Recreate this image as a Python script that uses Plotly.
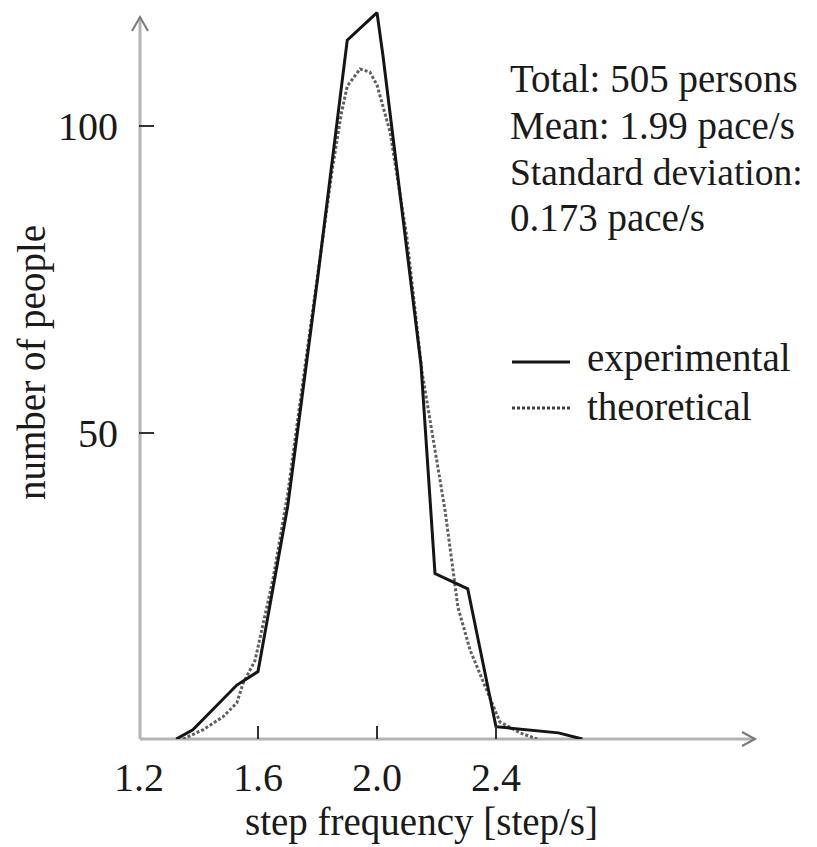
import plotly.graph_objects as go

# ---- data ----
exp_x = [1.325, 1.381, 1.529, 1.600, 1.700, 1.800, 1.900, 2.000, 2.020, 2.148, 2.195, 2.305, 2.400, 2.610, 2.690]
exp_y = [0.0, 1.5, 8.8, 11.0, 38.0, 75.0, 114.0, 118.5, 111.5, 61.0, 27.0, 24.5, 2.0, 1.0, 0.0]

th_x = [1.348, 1.415, 1.482, 1.529, 1.550, 1.590, 1.650, 1.700, 1.750, 1.800, 1.850, 1.880, 1.900,
        1.943, 1.976, 2.000, 2.044, 2.100, 2.151, 2.229, 2.272, 2.313, 2.380, 2.413, 2.481, 2.538]
th_y = [0.0, 1.5, 3.6, 5.9, 9.1, 12.8, 26.0, 40.0, 58.0, 75.5, 93.0, 102.0, 106.5,
        109.3, 108.8, 106.7, 99.0, 82.0, 60.0, 37.2, 21.5, 14.5, 6.8, 2.8, 1.0, 0.0]

x_ticks = [1.2, 1.6, 2.0, 2.4]
x_ticktext = ["1.2", "1.6", "2.0", "2.4"]
y_ticks = [50, 100]
y_ticktext = ["50", "100"]

stats_lines = ["Total: 505 persons", "Mean: 1.99 pace/s", "Standard deviation:", "0.173 pace/s"]
series_names = ["experimental", "theoretical"]
x_title = "step frequency [step/s]"
y_title = "number of people"

# ---- layout geometry (page has an 8px body margin) ----
OFF = 8
W, H = 817 - OFF, 847 - OFF
ML, MR, MT = 139 - OFF, 0, 0
PH = 739 - OFF
MB = H - PH
PW = W - ML - MR
XPX = 297.5           # px per x unit
YPX = 6.13            # px per y unit
x_range = [1.2, 1.2 + PW / XPX]
y_range = [0, PH / YPX]

def px_x(px):
    return (px - OFF - ML) / PW

def px_y(py):
    return (PH - (py - OFF)) / PH

FONT = "Liberation Serif, Times New Roman, serif"
TXT = "#1a1a1a"
AXC = "#b3b3b3"
FS = 39

fig = go.Figure()
fig.add_trace(go.Scatter(x=th_x, y=th_y, mode="lines", name=series_names[1],
                         line=dict(color="#606060", width=3, dash="3px,2px"),
                         showlegend=False))
fig.add_trace(go.Scatter(x=exp_x, y=exp_y, mode="lines", name=series_names[0],
                         line=dict(color="#151515", width=3),
                         showlegend=False))

shapes = []
# axis lines with open arrowheads (paper coords so they are not clipped)
ax0, ay0 = px_x(140), px_y(739)
ax1 = px_x(755)
ay1 = px_y(17)
shapes.append(dict(type="line", xref="paper", yref="paper", x0=ax0, y0=ay0, x1=ax1, y1=ay0,
                   line=dict(color=AXC, width=3), layer="below"))
shapes.append(dict(type="line", xref="paper", yref="paper", x0=ax0, y0=ay0, x1=ax0, y1=ay1,
                   line=dict(color=AXC, width=3), layer="below"))
shapes.append(dict(type="path", xref="paper", yref="paper",
                   path=f"M {px_x(742)},{px_y(732)} L {ax1},{ay0} L {px_x(742)},{px_y(746)}",
                   line=dict(color="#7a7a7a", width=2)))
shapes.append(dict(type="path", xref="paper", yref="paper",
                   path=f"M {px_x(132)},{px_y(31)} L {ax0},{ay1} L {px_x(148)},{px_y(31)}",
                   line=dict(color="#7a7a7a", width=2)))
# legend samples
shapes.append(dict(type="line", xref="paper", yref="paper", x0=px_x(512), x1=px_x(570),
                   y0=px_y(362), y1=px_y(362), line=dict(color="#151515", width=3)))
shapes.append(dict(type="line", xref="paper", yref="paper", x0=px_x(512), x1=px_x(570),
                   y0=px_y(408), y1=px_y(408), line=dict(color="#404040", width=3, dash="3px,2px")))

annotations = []
for txt, cy in zip(stats_lines, [79, 126, 172, 218]):
    fs = FS - 1.5 if txt.startswith("Standard") else FS
    annotations.append(dict(text=txt, xref="paper", yref="paper", x=px_x(508), y=px_y(cy),
                            xanchor="left", yanchor="middle", showarrow=False,
                            font=dict(family=FONT, size=fs, color=TXT)))
for txt, cy in zip(series_names, [358, 407]):
    annotations.append(dict(text=txt, xref="paper", yref="paper", x=px_x(585), y=px_y(cy),
                            xanchor="left", yanchor="middle", showarrow=False,
                            font=dict(family=FONT, size=FS, color=TXT)))
annotations.append(dict(text=x_title, xref="paper", yref="paper", x=px_x(421), y=px_y(822),
                        xanchor="center", yanchor="middle", showarrow=False,
                        font=dict(family=FONT, size=FS, color=TXT)))
annotations.append(dict(text=y_title, xref="paper", yref="paper", x=px_x(32), y=px_y(363),
                        xanchor="center", yanchor="middle", showarrow=False, textangle=-90,
                        font=dict(family=FONT, size=FS, color=TXT)))

fig.update_layout(
    width=W, height=H,
    margin=dict(l=ML, r=MR, t=MT, b=MB, autoexpand=False),
    paper_bgcolor="white", plot_bgcolor="white",
    shapes=shapes, annotations=annotations,
    xaxis=dict(range=x_range, showgrid=False, zeroline=False, showline=False,
               tickvals=x_ticks, ticktext=x_ticktext, ticks="inside", ticklen=13,
               tickwidth=1.5, tickcolor="#333333", ticklabelstandoff=11,
               tickfont=dict(family=FONT, size=FS + 1, color=TXT), fixedrange=True),
    yaxis=dict(range=y_range, showgrid=False, zeroline=False, showline=False,
               tickvals=y_ticks, ticktext=y_ticktext, ticks="inside", ticklen=15,
               tickwidth=1.5, tickcolor="#333333", ticklabelstandoff=20,
               tickfont=dict(family=FONT, size=FS + 1, color=TXT), fixedrange=True),
    showlegend=False,
)

fig.write_html("out.html")
